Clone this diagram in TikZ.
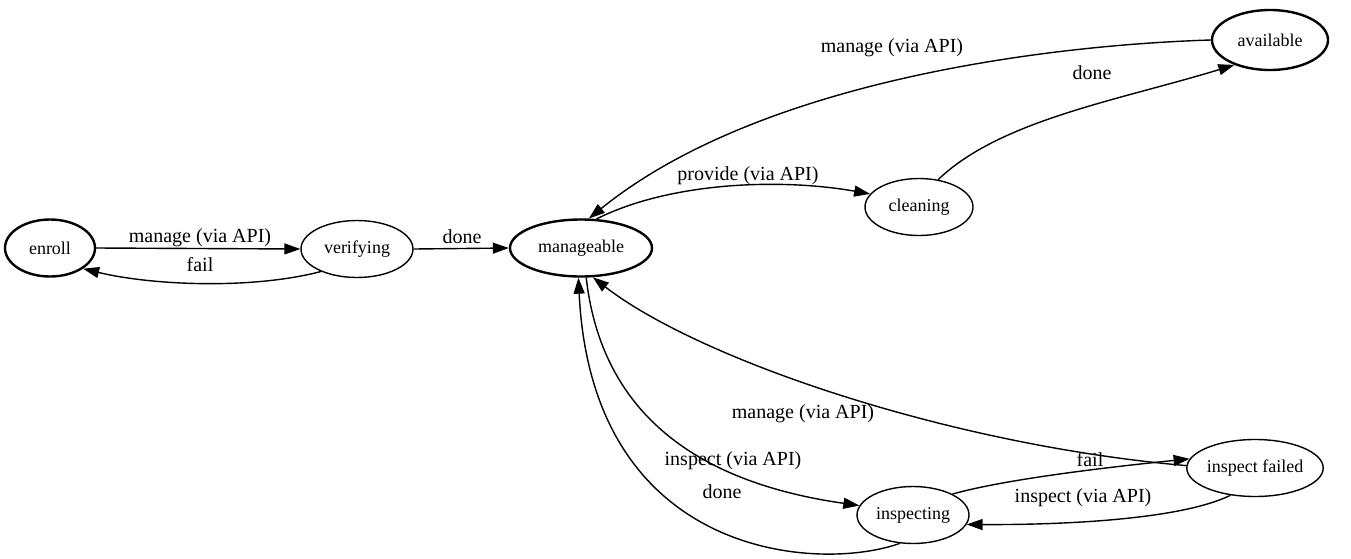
\documentclass[tikz,border=0pt]{standalone}
\usepackage{fontspec}
\setmainfont{Liberation Serif}
\usetikzlibrary{shapes.geometric,arrows.meta}
\tikzset{
  stnode/.style={ellipse, draw, line width=0.7pt, inner sep=0pt,
    minimum width=56pt, minimum height=28.5pt, font=\fontsize{9}{11}\selectfont},
  stbold/.style={stnode, line width=1.2pt},
  trans/.style={line width=0.7pt, -{Triangle[length=8pt,width=5.5pt]}},
  lbl/.style={font=\fontsize{10}{12}\selectfont, inner sep=0pt}
}
\begin{document}
\begin{tikzpicture}[x=0.5pt,y=-0.5pt]
\useasboundingbox (0,0) rectangle (1351,558);
% states
\node[stbold, minimum width=45pt] (enroll) at (50,248) {enroll};
\node[stnode] (verifying) at (357,249) {verifying};
\node[stbold, minimum width=71pt] (manageable) at (581,248) {manageable};
\node[stnode, minimum width=54pt] (cleaning) at (919,207) {cleaning};
\node[stbold, minimum width=58pt, minimum height=30pt] (available) at (1270,40) {available};
\node[stnode] (inspecting) at (913,515) {inspecting};
\node[stnode, minimum width=65pt] (failed) at (1255,468) {inspect failed};
% transitions
\draw[trans] (enroll.east) -- (verifying.west);
\draw[trans] (verifying.212) .. controls (250,290) and (150,285) .. (enroll.-32);
\draw[trans] (verifying.east) -- (manageable.west);
\draw[trans] (manageable.62) .. controls (670,182) and (780,178) .. (cleaning.165);
\draw[trans] (available.180) .. controls (1050,45) and (760,80) .. (manageable.75);
\draw[trans] (cleaning.55) .. controls (1000,120) and (1120,100) .. (available.215);
\draw[trans] (manageable.-80) .. controls (600,400) and (680,480) .. (inspecting.170);
\draw[trans] (inspecting.245) .. controls (820,572) and (592,560) .. (manageable.-95);
\draw[trans] (failed.178) .. controls (950,445) and (700,360) .. (manageable.-68);
\draw[trans] (inspecting.28) .. controls (1010,478) and (1120,466) .. (failed.172);
\draw[trans] (failed.228) .. controls (1180,520) and (1060,525) .. (inspecting.-10);
% labels
\node[lbl] (l1) at (200,238) {manage (via API)};
\node[lbl] (l2) at (200,265) {fail};
\node[lbl] (l3) at (462,237) {done};
\node[lbl] (l4) at (748,176) {provide (via API)};
\node[lbl] (l5) at (892,48) {manage (via API)};
\node[lbl] (l6) at (1092,73) {done};
\node[lbl] (l7) at (803,414) {manage (via API)};
\node[lbl] (l8) at (733,461) {inspect (via API)};
\node[lbl] (l9) at (722,492) {done};
\node[lbl] (l10) at (1090,460) {fail};
\node[lbl] (l11) at (1083,498) {inspect (via API)};
\end{tikzpicture}
\end{document}
